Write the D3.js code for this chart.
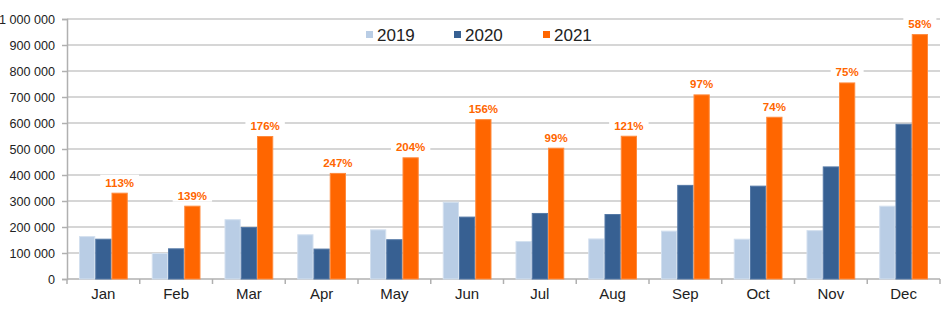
<!DOCTYPE html>
<html><head><meta charset="utf-8">
<script src="https://cdn.jsdelivr.net/npm/d3@7"></script>
<style>body{margin:0;background:#fff}svg{display:block}text{font-family:"Liberation Sans",Arial,sans-serif}</style>
</head><body><svg id="c" width="951" height="325"></svg>
<script>
const months = ["Jan","Feb","Mar","Apr","May","Jun","Jul","Aug","Sep","Oct","Nov","Dec"];
const series = ["2019","2020","2021"];
const v2019 = [165000,100000,230000,172000,191000,297000,146000,156000,186000,155000,188000,282000];
const v2020 = [155000,118000,200000,117000,153000,240000,254000,250000,362000,359000,433000,597000];
const v2021 = [332000,282000,550000,408000,468000,615000,505000,551000,710000,624000,756000,942000];
const growth = ["113%","139%","176%","247%","204%","156%","99%","121%","97%","74%","75%","58%"];
const yTicks = [0,100000,200000,300000,400000,500000,600000,700000,800000,900000,1000000];
const colors = ["#b9cde5","#376092","#ff6600"];

const svg = d3.select("#c");
const L=67, R=940, T=19, B=279;
const x = d3.scaleBand().domain(months).range([L,R]).paddingInner(0.33).paddingOuter(0.165);
const xs = d3.scaleBand().domain(series).range([0,x.bandwidth()]);
const y = d3.scaleLinear().domain([0,1000000]).range([B,T]);
const fmt = d => d3.format(",")(d).replace(/,/g," ");

// gridlines
svg.append("g").selectAll("line").data(yTicks.slice(1)).join("line")
  .attr("x1",L).attr("x2",R).attr("y1",d=>y(d)).attr("y2",d=>y(d))
  .attr("stroke","#c8c8c8").attr("stroke-width",1.5);

// y axis
const ya = svg.append("g").attr("transform",`translate(${L},0)`)
  .call(d3.axisLeft(y).tickValues(yTicks).tickFormat(fmt).tickSize(5).tickPadding(7));
ya.select(".domain").attr("stroke","#b0b0b0").attr("stroke-width",1.5);
ya.selectAll(".tick line").attr("stroke","#b0b0b0").attr("stroke-width",1.5);
ya.selectAll("text").attr("font-size",12.6).attr("fill","#222");

// x axis
const step = (R-L)/months.length;
const xa = svg.append("g").attr("transform",`translate(0,${B})`);
xa.append("line").attr("x1",L).attr("x2",R).attr("stroke","#b0b0b0").attr("stroke-width",1.5);
xa.selectAll("line.t").data(d3.range(months.length+1)).join("line").attr("class","t")
  .attr("x1",i=>L+i*step).attr("x2",i=>L+i*step).attr("y1",0).attr("y2",5)
  .attr("stroke","#b0b0b0").attr("stroke-width",1.5);
xa.selectAll("text").data(months).join("text")
  .attr("x",d=>x(d)+x.bandwidth()/2).attr("y",19.5).attr("text-anchor","middle")
  .attr("font-size",15).attr("fill","#222").text(d=>d);

// bars
const vals = [v2019,v2020,v2021];
const strokes = ["#d3e0ef","#5579a6","#ff8a3d"];
series.forEach((s,si)=>{
  svg.append("g").selectAll("rect").data(months).join("rect")
    .attr("x",d=>x(d)+xs(s)+0.5).attr("width",xs.bandwidth()-1)
    .attr("y",(d,i)=>y(vals[si][i])+0.5).attr("height",(d,i)=>B-y(vals[si][i])-0.5)
    .attr("fill",colors[si]).attr("stroke",strokes[si]).attr("stroke-width",1);
});

// growth labels
const lg = svg.append("g");
months.forEach((m,i)=>{
  const cx = x(m)+xs("2021")+xs.bandwidth()/2;
  const ty = y(v2021[i])-6;
  const t = lg.append("text").attr("x",cx).attr("y",ty).attr("text-anchor","middle")
    .attr("font-size",11.5).attr("font-weight","bold").attr("fill","#ff6600").text(growth[i]);
  const bb = t.node().getBBox();
  lg.insert("rect","text").attr("x",bb.x-5).attr("y",bb.y-2).attr("width",bb.width+10).attr("height",bb.height+2).attr("fill","#fff");
});

// legend
const lx = [366,454,543];
const leg = svg.append("g");
leg.append("rect").attr("x",355).attr("y",22).attr("width",270).attr("height",20).attr("fill","#fff");
series.forEach((s,i)=>{
  leg.append("rect").attr("x",lx[i]).attr("y",31).attr("width",7).attr("height",7).attr("fill",colors[i]);
  leg.append("text").attr("x",lx[i]+11).attr("y",41).attr("font-size",17).attr("fill","#222").text(s);
});
</script></body></html>
